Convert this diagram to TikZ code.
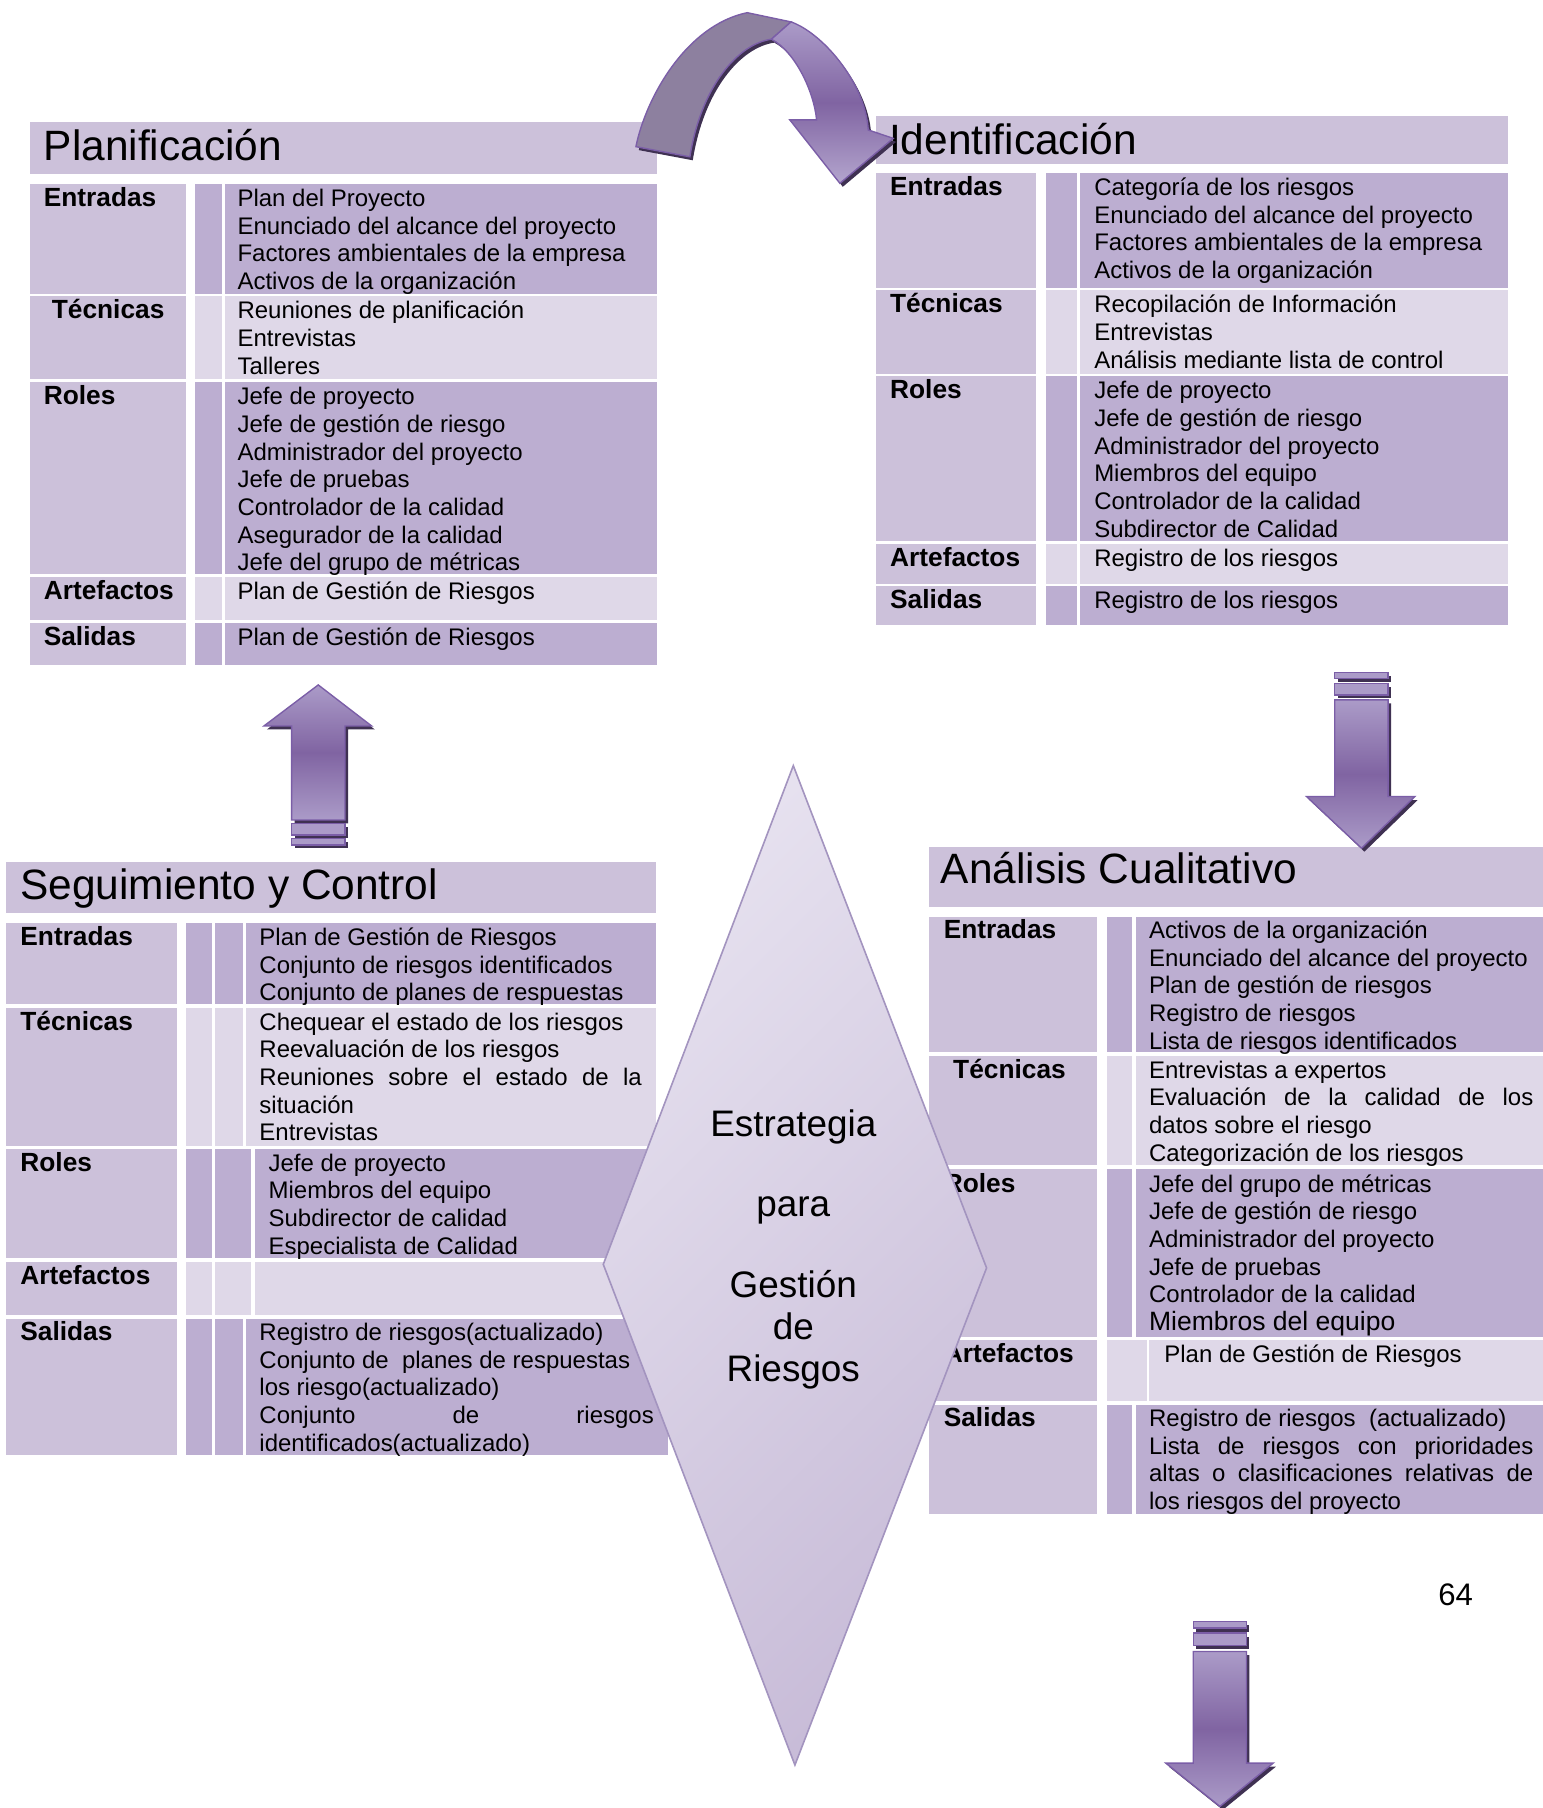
\documentclass[tikz,border=0pt]{standalone}
\usepackage{fontspec}
\setmainfont{Liberation Sans}

% palette
\definecolor{lav}{HTML}{CCC1DA}
\definecolor{bandD}{HTML}{BCAED1}
\definecolor{bandL}{HTML}{DFD8E8}
\definecolor{arrLight}{HTML}{AB9BC8}
\definecolor{arrDark}{HTML}{8064A2}
\definecolor{arrEdge}{HTML}{7B5EA7}
\definecolor{shadowC}{HTML}{3F3152}
\definecolor{curveGrey}{HTML}{8D809F}
\definecolor{dmdLight}{HTML}{E6E1EF}
\definecolor{dmdDark}{HTML}{C8BCD8}
\definecolor{dmdEdge}{HTML}{A394BF}

% one line of a cell, a stack of lines, and a justified line
\newcommand\tline[1]{\hbox{#1}}
\newcommand\cellt[1]{\vtop{\lineskiplimit=-20pt\lineskip=0pt #1}}
\newcommand\jline[2]{\hbox to #1{#2}}

\begin{document}
\begin{tikzpicture}[x=0.5pt,y=-0.5pt,
  lab/.style={anchor=base west,inner sep=0pt,outer sep=0pt,font=\fontsize{11.4}{12}\selectfont\bfseries},
  txt/.style={anchor=base west,inner sep=0pt,outer sep=0pt,font=\fontsize{10.4}{12}\selectfont},
  ttl/.style={anchor=base west,inner sep=0pt,outer sep=0pt,font=\fontsize{18.4}{20}\selectfont},
  dtxt/.style={anchor=base,inner sep=0pt,outer sep=0pt,font=\fontsize{16}{18}\selectfont},
  arrowbody/.style={draw=arrEdge,line width=0.6pt,line join=miter,top color=arrLight,bottom color=arrLight,middle color=arrDark},
  arrowband/.style={draw=arrEdge,line width=0.6pt,fill=arrLight},
  arrowshadow/.style={fill=shadowC},
]
\useasboundingbox (0,0) rectangle (1338,1568);

% ---------------- Planificación ----------------
\fill[lav] (26,106) rectangle (570,151);
\foreach \ya/\yb/\c in {159.5/254.9/bandD, 257/328.3/bandL, 331.4/498/bandD, 500.5/537.6/bandL, 540.1/577/bandD}{
  \fill[lav] (26,\ya) rectangle (161,\yb);
  \fill[\c] (169,\ya) rectangle (192.6,\yb);
  \fill[\c] (194.8,\ya) rectangle (570,\yb);
}
\node[ttl] (pT) at (38,139.4) {Planificación};
\node[lab] (pE) at (38,179) {Entradas};
\node[lab] (pTe) at (45,276.5) {Técnicas};
\node[lab] (pR) at (38,351) {Roles};
\node[lab] (pA) at (38,520) {Artefactos};
\node[lab] (pS) at (38,559.6) {Salidas};
\node[txt] (pEc) at (206,179) {\cellt{\tline{Plan del Proyecto}\tline{Enunciado del alcance del proyecto}\tline{Factores ambientales de la empresa}\tline{Activos de la organización}}};
\node[txt] (pTc) at (206,276.5) {\cellt{\tline{Reuniones de planificación}\tline{Entrevistas}\tline{Talleres}}};
\node[txt] (pRc) at (206,351) {\cellt{\tline{Jefe de proyecto}\tline{Jefe de gestión de riesgo}\tline{Administrador del proyecto}\tline{Jefe de pruebas}\tline{Controlador de la calidad}\tline{Asegurador de la calidad}\tline{Jefe del grupo de métricas}}};
\node[txt] (pAc) at (206,520) {Plan de Gestión de Riesgos};
\node[txt] (pSc) at (206,559.6) {Plan de Gestión de Riesgos};

% ---------------- Identificación ----------------
\fill[lav] (760,100.2) rectangle (1307.7,142);
\foreach \ya/\yb/\c in {150/249.5/bandD, 251.9/324.1/bandL, 326.5/469.5/bandD, 471.9/506.3/bandL, 508.6/542.1/bandD}{
  \fill[lav] (760,\ya) rectangle (898.7,\yb);
  \fill[\c] (907.4,\ya) rectangle (933.8,\yb);
  \fill[\c] (936.9,\ya) rectangle (1307.7,\yb);
}
\node[ttl] (iT) at (771,134.4) {Identificación};
\node[lab] (iE) at (772,169.5) {Entradas};
\node[lab] (iTe) at (772,271.4) {Técnicas};
\node[lab] (iR) at (772,346) {Roles};
\node[lab] (iA) at (772,491.4) {Artefactos};
\node[lab] (iS) at (772,528.1) {Salidas};
\node[txt] (iEc) at (949,169.5) {\cellt{\tline{Categoría de los riesgos}\tline{Enunciado del alcance del proyecto}\tline{Factores ambientales de la empresa}\tline{Activos de la organización}}};
\node[txt] (iTc) at (949,271.4) {\cellt{\tline{Recopilación de Información}\tline{Entrevistas}\tline{Análisis mediante lista de control}}};
\node[txt] (iRc) at (949,346) {\cellt{\tline{Jefe de proyecto}\tline{Jefe de gestión de riesgo}\tline{Administrador del proyecto}\tline{Miembros del equipo}\tline{Controlador de la calidad}\tline{Subdirector de Calidad}}};
\node[txt] (iAc) at (949,491.4) {Registro de los riesgos};
\node[txt] (iSc) at (949,528.1) {Registro de los riesgos};

% ---------------- Seguimiento y Control ----------------
\fill[lav] (5.6,748) rectangle (569,792.2);
\foreach \ya/\yb/\c/\bx/\cx/\cr in {800.6/871/bandD/210.6/213.2/569, 874.1/993.5/bandL/210.6/213.2/569, 996.2/1091.3/bandD/218.1/221.1/569, 1094.4/1140/bandL/218.1/221.1/569, 1143.5/1262/bandD/210.6/213.2/579}{
  \fill[lav] (5.6,\ya) rectangle (153.4,\yb);
  \fill[\c] (161.7,\ya) rectangle (183.5,\yb);
  \fill[\c] (186.5,\ya) rectangle (\bx,\yb);
  \fill[\c] (\cx,\ya) rectangle (\cr,\yb);
}
\node[ttl] (sT) at (17.7,780.3) {Seguimiento y Control};
\node[lab] (sE) at (17.7,820) {Entradas};
\node[lab] (sTe) at (17.7,893.5) {Técnicas};
\node[lab] (sR) at (17.7,1015.6) {Roles};
\node[lab] (sA) at (17.7,1114.3) {Artefactos};
\node[lab] (sS) at (17.7,1162.5) {Salidas};
\node[txt] (sEc) at (225,820) {\cellt{\tline{Plan de Gestión de Riesgos}\tline{Conjunto de riesgos identificados}\tline{Conjunto de planes de respuestas}}};
\node[txt] (sTc) at (225,893.5) {\cellt{\tline{Chequear el estado de los riesgos}\tline{Reevaluación de los riesgos}\jline{165.8pt}{Reuniones\hfill sobre\hfill el\hfill estado\hfill de\hfill la}\tline{situación}\tline{Entrevistas}}};
\node[txt] (sRc) at (233,1015.6) {\cellt{\tline{Jefe de proyecto}\tline{Miembros del equipo}\tline{Subdirector de calidad}\tline{Especialista de Calidad}}};
\node[txt] (sSc) at (225,1162.5) {\cellt{\tline{Registro de riesgos(actualizado)}\tline{Conjunto de\ \ planes de respuestas}\tline{los riesgo(actualizado)}\jline{171pt}{Conjunto\hfill de\hfill riesgos}\tline{identificados(actualizado)}}};

% ---------------- Análisis Cualitativo ----------------
\fill[lav] (806,734.2) rectangle (1338,786.4);
\foreach \ya/\yb/\c/\nx/\cx in {795/912.4/bandD/982/984.8, 915.4/1010.5/bandL/982/984.8, 1014/1159.3/bandD/982/984.8, 1162.3/1215.1/bandL/994.8/996.6, 1218.6/1312.6/bandD/982/984.8}{
  \fill[lav] (806,\ya) rectangle (951.8,\yb);
  \fill[\c] (960,\ya) rectangle (\nx,\yb);
  \fill[\c] (\cx,\ya) rectangle (1338,\yb);
}
\node[ttl] (aT) at (816,766.6) {Análisis Cualitativo};
\node[lab] (aE) at (818.5,814) {Entradas};
\node[lab] (aTe) at (826.7,935) {Técnicas};
\node[lab] (aR) at (818.5,1033.8) {Roles};
\node[lab] (aA) at (818.5,1181.2) {Artefactos};
\node[lab] (aS) at (818.5,1237) {Salidas};
\node[txt] (aEc) at (996.6,814) {\cellt{\tline{Activos de la organización}\tline{Enunciado del alcance del proyecto}\tline{Plan de gestión de riesgos}\tline{Registro de riesgos}\tline{Lista de riesgos identificados}}};
\node[txt] (aTc) at (996.6,935) {\cellt{\tline{Entrevistas a expertos}\jline{166.6pt}{Evaluación\hfill de\hfill la\hfill calidad\hfill de\hfill los}\tline{datos sobre el riesgo}\tline{Categorización de los riesgos}}};
\node[txt] (aRc) at (996.6,1033.8) {\cellt{\tline{Jefe del grupo de métricas}\tline{Jefe de gestión de riesgo}\tline{Administrador del proyecto}\tline{Jefe de pruebas}\tline{Controlador de la calidad}\tline{\fontsize{11.5}{12}\selectfont Miembros del equipo}}};
\node[txt] (aAc) at (1009.8,1181.2) {Plan de Gestión de Riesgos};
\node[txt] (aSc) at (996.6,1237) {\cellt{\tline{Registro de riesgos\ \ (actualizado)}\jline{166.6pt}{Lista\hfill de\hfill riesgos\hfill con\hfill prioridades}\jline{166.6pt}{altas\hfill o\hfill clasificaciones\hfill relativas\hfill de}\tline{los riesgos del proyecto}}};

% ---------------- central diamond ----------------
\coordinate (dN) at (688,664);
\coordinate (dE) at (855.6,1099.6);
\coordinate (dS) at (689.4,1530.7);
\coordinate (dW) at (523.2,1096.5);
\shade[top color=dmdLight,bottom color=dmdDark,shading angle=45] (dN) -- (dE) -- (dS) -- (dW) -- cycle;
\draw[dmdEdge,line width=0.7pt,line join=miter] (dN) -- (dE) -- (dS) -- (dW) -- cycle;
\node[dtxt] (d1) at (688,985.5) {Estrategia};
\node[dtxt] (d2) at (688,1055) {para};
\node[dtxt] (d3) at (688,1125) {Gestión};
\node[dtxt] (d4) at (688,1161.6) {de};
\node[dtxt] (d5) at (688,1198.2) {Riesgos};

% ---------------- curved arrow Planificación -> Identificación ----------------
\begin{scope}[shift={(2.5,3)}]
  \fill[shadowC] (551.5,127.2) .. controls (560,85) and (595,22) .. (648,11) -- (686,19) -- (669,34)
     .. controls (640,38) and (608,75) .. (598.3,136) -- cycle;
  \fill[shadowC] (686,19) .. controls (712,28) and (750,70) .. (753,112.7) -- (774.7,120) -- (728.4,159) -- (685,104) -- (708.2,104)
     .. controls (706,80) and (690,45) .. (669,34) -- cycle;
\end{scope}
\path[draw=arrEdge,line width=0.6pt,fill=curveGrey,line join=miter]
  (551.5,127.2) .. controls (560,85) and (595,22) .. (648,11) -- (686,19) -- (669,34)
  .. controls (640,38) and (608,75) .. (598.3,136) -- cycle;
\path[draw=arrEdge,line width=0.6pt,line join=miter,top color=arrLight,bottom color=arrLight!90!white,middle color=arrDark]
  (686,19) .. controls (712,28) and (750,70) .. (753,112.7) -- (774.7,120) -- (728.4,159) -- (685,104) -- (708.2,104)
  .. controls (706,80) and (690,45) .. (669,34) -- cycle;

% ---------------- up arrow Seguimiento -> Planificación ----------------
\fill[arrowshadow] (278.5,597) -- (325,632.6) -- (302,632.6) -- (302,714) -- (255.5,714) -- (255.5,632.6) -- (231.5,632.6) -- cycle;
\fill[arrowshadow] (255.5,717) rectangle (302,727);
\fill[arrowshadow] (255.5,730) rectangle (302,735.8);
\path[arrowbody] (276,594) -- (322.3,629.6) -- (299.2,629.6) -- (299.2,711.1) -- (252.9,711.1) -- (252.9,629.6) -- (228.9,629.6) -- cycle;
\path[arrowband] (252.9,714) rectangle (299.2,724);
\path[arrowband] (252.9,727) rectangle (299.2,732.8);

% ---------------- down arrow Identificación -> Análisis ----------------
\fill[arrowshadow] (1160.1,586.3) rectangle (1206.4,591.2);
\fill[arrowshadow] (1160.1,595.6) rectangle (1206.4,605.7);
\fill[arrowshadow] (1160.1,610) -- (1206.4,610) -- (1206.4,693.8) -- (1229.5,693.8) -- (1183.3,738.6) -- (1135.6,693.8) -- (1160.1,693.8) -- cycle;
\path[arrowband] (1157.6,583.3) rectangle (1203.9,588.2);
\path[arrowband] (1157.6,592.6) rectangle (1203.9,602.7);
\path[arrowbody] (1157.6,607) -- (1203.9,607) -- (1203.9,690.8) -- (1227,690.8) -- (1180.8,735.6) -- (1133.1,690.8) -- (1157.6,690.8) -- cycle;

% ---------------- down arrow below Análisis ----------------
\fill[arrowshadow] (1037.3,1409.2) rectangle (1083.5,1415);
\fill[arrowshadow] (1037.3,1419.3) rectangle (1083.5,1430.3);
\fill[arrowshadow] (1037.3,1435.3) -- (1083.5,1435.3) -- (1083.5,1532.1) -- (1106.6,1532.1) -- (1060.5,1569.6) -- (1013.6,1532.1) -- (1037.3,1532.1) -- cycle;
\path[arrowband] (1034.8,1406.2) rectangle (1081,1412);
\path[arrowband] (1034.8,1416.3) rectangle (1081,1427.3);
\path[arrowbody] (1034.8,1432.3) -- (1081,1432.3) -- (1081,1529.1) -- (1104.1,1529.1) -- (1058,1566.6) -- (1011.1,1529.1) -- (1034.8,1529.1) -- cycle;

% page number
\node[anchor=base west,inner sep=0pt,font=\fontsize{13.5}{15}\selectfont] (pg) at (1247,1392.3) {64};
\end{tikzpicture}
\end{document}
